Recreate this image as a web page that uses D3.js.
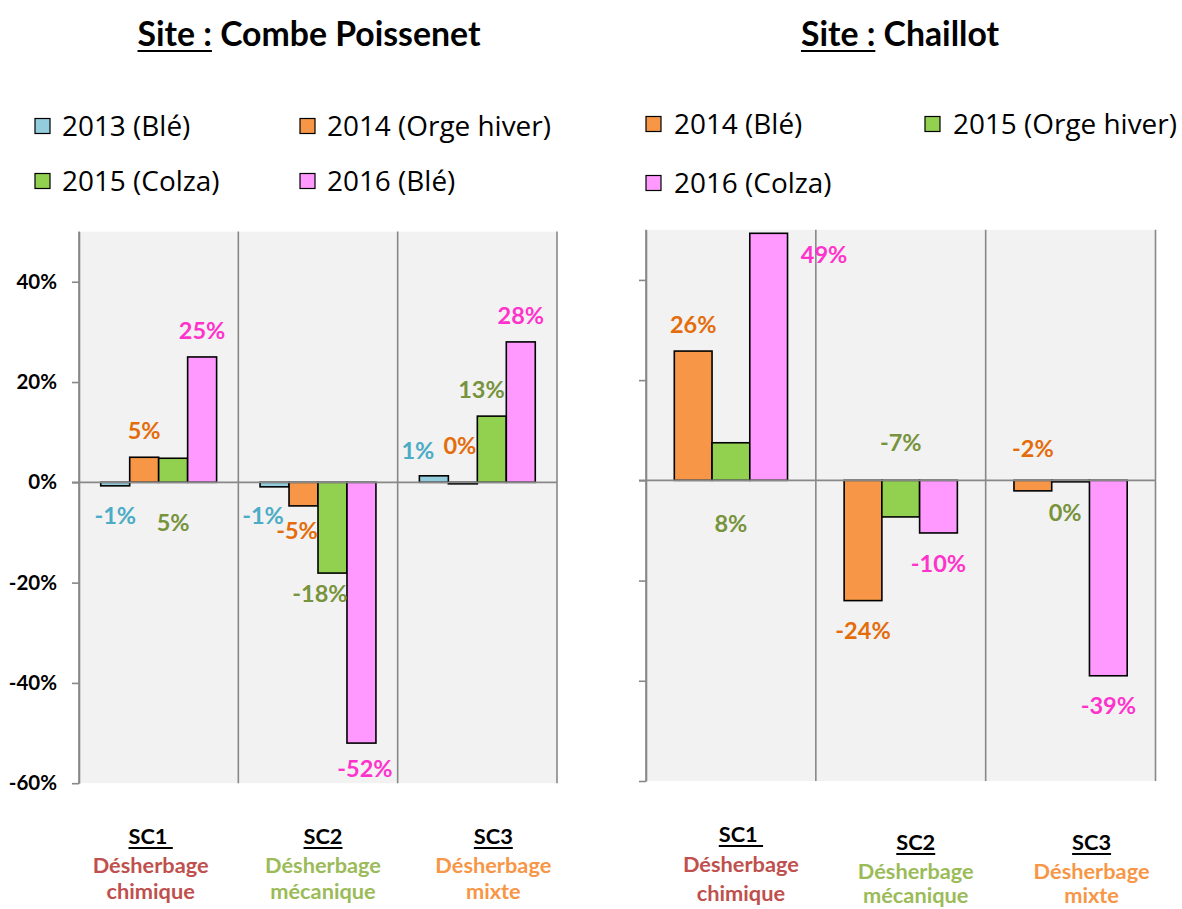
<!DOCTYPE html>
<html><head><meta charset="utf-8">
<script src="https://cdn.jsdelivr.net/npm/d3@7"></script>
<style>body{margin:0;background:#fff;} svg{display:block;}</style>
</head><body>
<svg id="c" width="1182" height="909"></svg>
<script>
// ---------- DATA ----------
const categories = ["SC1", "SC2", "SC3"];
const catWord = ["Désherbage", "Désherbage", "Désherbage"];
const catKind = ["chimique", "mécanique", "mixte"];
const yTickValues = [-60, -40, -20, 0, 20, 40];

// Site : Combe Poissenet
const cpTitle = "Combe Poissenet";
const cpSeriesNames = ["2013 (Blé)", "2014 (Orge hiver)", "2015 (Colza)", "2016 (Blé)"];
const cp2013 = [-0.7, -0.9, 1.3];
const cp2014 = [5.0, -4.7, -0.3];
const cp2015 = [4.8, -18.1, 13.2];
const cp2016 = [25.0, -52.0, 28.0];

// Site : Chaillot
const chTitle = "Chaillot";
const chSeriesNames = ["2014 (Blé)", "2015 (Orge hiver)", "2016 (Colza)"];
const ch2014 = [25.8, -24.0, -2.1];
const ch2015 = [7.5, -7.3, -0.3];
const ch2016 = [49.3, -10.5, -39.0];

// ---------- STYLE / LAYOUT ----------
const FILL = {"2013": "#93CDDD", "2014": "#F79646", "2015": "#92D050", "2016": "#FF99FF"};
const LABEL = {"2013": "#4BACC6", "2014": "#E46C0A", "2015": "#77933C", "2016": "#FF33CC"};
const CATCOL = ["#C0504D", "#9BBB59", "#F79646"];
const GRID = "#888888";

const charts = [
  {
    title: cpTitle, titleCx: 309,
    names: cpSeriesNames, values: [cp2013, cp2014, cp2015, cp2016],
    x0: 79, x1: 557, yTop: 231.6, yBot: 783.2, showTickLabels: true,
    legend: {cols: [35, 300], rows: [126, 181], textDx: 27},
    labelOff: [
      [[0, 30], [-11.5, 29], [-16, -25]],
      [[0, -26.5], [-6.5, 25], [-3, -38]],
      [[0, 64], [-12.5, 20], [-10.4, -26.8]],
      [[0, -26], [3.5, 25], [0, -26]]
    ],
    catDx: [-8, 5, 16],
    catBase: [[844, 873, 899], [844, 873, 899], [844, 873, 899]]
  },
  {
    title: chTitle, titleCx: 900,
    names: chSeriesNames, values: [ch2014, ch2015, ch2016],
    x0: 646, x1: 1155.5, yTop: 229.8, yBot: 781, showTickLabels: false,
    legend: {cols: [646, 925], rows: [124, 183], textDx: 28},
    labelOff: [
      [[0, -26.7], [0, 29.5], [0, -42.8]],
      [[0, 81], [0, -74.6], [-5.5, 30.5]],
      [[55.4, 21], [0, 30.4], [0, 29.3]]
    ],
    catDx: [10, 15, 21],
    catBase: [[842, 872, 901], [850, 879, 903], [850, 879, 903]]
  }
];

const svg = d3.select("#c");
const fmt = v => `${Math.round(v)}%`;
const tickFmt = v => `${v}%`;

function fitSize(sel, target) {
  sel.style("font-size", "100px");
  const w = sel.node().getComputedTextLength();
  return 100 * target / w;
}

const tmp = svg.append("text").attr("font-family", "Lato").attr("font-weight", 700).text("Site : " + cpTitle);
const titleSize = fitSize(tmp, 343);
tmp.remove();
const tmpL = svg.append("text").attr("font-family", "Open Sans").text("2014 (Orge hiver)");
const legendSize = fitSize(tmpL, 224);
tmpL.remove();
const tmpC = svg.append("text").attr("font-family", "Lato").attr("font-weight", 700).text("Désherbage");
const catSize = fitSize(tmpC, 116);
tmpC.remove();

charts.forEach((ch) => {
  const g = svg.append("g");
  const y = d3.scaleLinear().domain([-60, 50]).range([ch.yBot, ch.yTop]);
  const x = d3.scaleBand().domain(categories).range([ch.x0, ch.x1]).paddingInner(0).paddingOuter(0);
  const xs = d3.scaleBand().domain(ch.names).range([0, x.bandwidth()]).paddingInner(0).paddingOuter(0.75);
  const year = n => n.slice(0, 4);

  // title
  const t = g.append("text").attr("font-family", "Lato").attr("font-weight", 700)
    .style("font-size", titleSize + "px").attr("text-anchor", "middle")
    .attr("x", ch.titleCx).attr("y", 46).attr("fill", "#000");
  const t1 = t.append("tspan").text("Site :");
  t.append("tspan").text(" " + ch.title);
  const tb = t.node().getBBox();
  const w1 = t1.node().getComputedTextLength();
  g.append("line").attr("x1", tb.x).attr("x2", tb.x + w1).attr("y1", 51).attr("y2", 51)
    .attr("stroke", "#000").attr("stroke-width", 2.2);

  // legend
  ch.names.forEach((n, i) => {
    const cx = ch.legend.cols[i % 2], cy = ch.legend.rows[Math.floor(i / 2)];
    g.append("rect").attr("x", cx).attr("y", cy - 7.5).attr("width", 15).attr("height", 15)
      .attr("fill", FILL[year(n)]).attr("stroke", "#000").attr("stroke-width", 1.2);
    g.append("text").attr("x", cx + ch.legend.textDx).attr("y", cy).attr("dy", "0.36em")
      .attr("font-family", "Open Sans").style("font-size", legendSize + "px").attr("fill", "#000").text(n);
  });

  // plot area
  g.append("rect").attr("x", ch.x0).attr("y", ch.yTop).attr("width", ch.x1 - ch.x0)
    .attr("height", ch.yBot - ch.yTop).attr("fill", "#F2F2F2");

  // vertical category dividers
  const bounds = categories.map(c => x(c) + x.bandwidth()).concat([ch.x0]);
  g.selectAll(".vd").data(bounds).join("line")
    .attr("x1", d => d).attr("x2", d => d).attr("y1", ch.yTop).attr("y2", ch.yBot)
    .attr("stroke", GRID).attr("stroke-width", 1.6);

  // bars
  ch.names.forEach((n, si) => {
    g.selectAll(null).data(ch.values[si]).join("rect")
      .attr("x", (d, ci) => x(categories[ci]) + xs(n))
      .attr("width", xs.bandwidth())
      .attr("y", d => y(Math.max(0, d)))
      .attr("height", d => Math.abs(y(d) - y(0)))
      .attr("fill", FILL[year(n)]).attr("stroke", "#000").attr("stroke-width", 1.6);
  });

  // zero line
  g.append("line").attr("x1", ch.x0 - 7).attr("x2", ch.x1).attr("y1", y(0)).attr("y2", y(0))
    .attr("stroke", GRID).attr("stroke-width", 1.6);

  // y axis
  const ax = d3.axisLeft(y).tickValues(yTickValues).tickSize(7).tickSizeOuter(0)
    .tickFormat(ch.showTickLabels ? tickFmt : "");
  const ag = g.append("g").attr("transform", `translate(${ch.x0},0)`).call(ax);
  ag.select(".domain").attr("stroke", GRID).attr("stroke-width", 1.6);
  ag.selectAll(".tick line").attr("stroke", GRID).attr("stroke-width", 1.6);
  ag.selectAll(".tick text").attr("font-family", "Lato").attr("font-weight", 700)
    .style("font-size", "20.5px").attr("fill", "#000").attr("x", -22);

  // data labels
  ch.names.forEach((n, si) => {
    g.selectAll(null).data(ch.values[si]).join("text")
      .attr("x", (d, ci) => x(categories[ci]) + xs(n) + xs.bandwidth() / 2 + ch.labelOff[si][ci][0])
      .attr("y", (d, ci) => y(d) + ch.labelOff[si][ci][1])
      .attr("dy", "0.36em").attr("text-anchor", "middle")
      .attr("font-family", "Lato").attr("font-weight", 700).style("font-size", "23.5px")
      .attr("fill", LABEL[year(n)]).text(d => fmt(d));
  });

  // category labels
  categories.forEach((c, ci) => {
    const cx = x(c) + x.bandwidth() / 2 + ch.catDx[ci];
    const b = ch.catBase[ci];
    const st = g.append("text").attr("x", cx).attr("y", b[0]).attr("text-anchor", "middle")
      .attr("font-family", "Lato").attr("font-weight", 700).style("font-size", catSize + "px")
      .style("white-space", "pre").attr("fill", "#000").text(ci === 0 ? c + " " : c);
    const bb = st.node().getBBox();
    g.append("line").attr("x1", bb.x).attr("x2", bb.x + bb.width).attr("y1", b[0] + 4).attr("y2", b[0] + 4)
      .attr("stroke", "#000").attr("stroke-width", 1.8);
    g.append("text").attr("x", cx).attr("y", b[1]).attr("text-anchor", "middle")
      .attr("font-family", "Lato").attr("font-weight", 700).style("font-size", catSize + "px")
      .attr("fill", CATCOL[ci]).text(catWord[ci]);
    g.append("text").attr("x", cx).attr("y", b[2]).attr("text-anchor", "middle")
      .attr("font-family", "Lato").attr("font-weight", 700).style("font-size", catSize + "px")
      .attr("fill", CATCOL[ci]).text(catKind[ci]);
  });
});
</script>
</body></html>
